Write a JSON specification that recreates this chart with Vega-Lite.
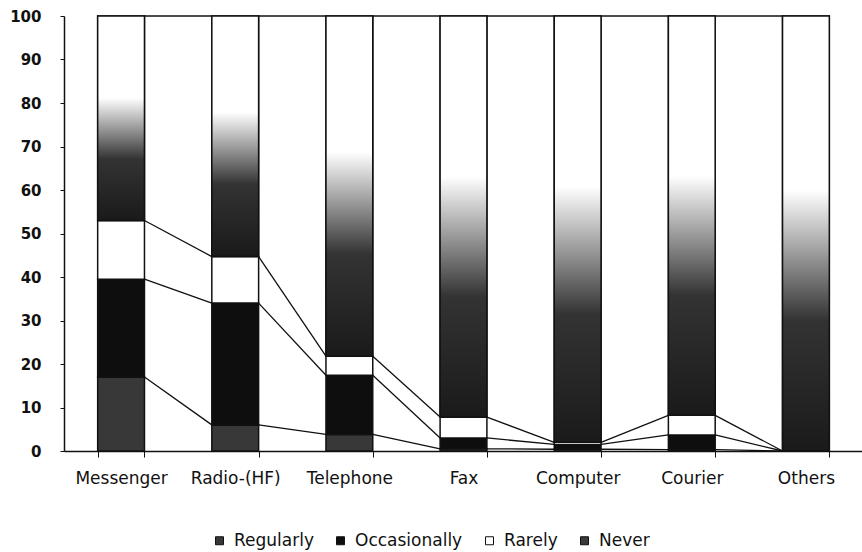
{
  "$schema": "https://vega.github.io/schema/vega-lite/v6.json",
  "width": 799,
  "height": 435,
  "autosize": {"type": "pad"},
  "padding": {"left": 9, "top": 9, "right": 0, "bottom": 4},
  "config": {
    "view": {"stroke": null},
    "font": "DejaVu Sans",
    "axis": {"labelColor": "#111", "labelFontSize": 17, "domainColor": "#111", "tickColor": "#111", "domainWidth": 1.5, "title": null, "grid": false},
    "legend": {"labelFontSize": 17, "labelColor": "#111", "symbolType": "square", "symbolSize": 64, "symbolStrokeColor": "#111", "symbolStrokeWidth": 1, "columnPadding": 18, "labelOffset": 6, "orient": "none", "legendX": 147, "legendY": 516, "direction": "horizontal", "title": null}
  },
  "data": {
    "values": [
      {"cat": "Messenger", "ci": 0, "series": "Regularly", "so": 0, "value": 17},
      {"cat": "Messenger", "ci": 0, "series": "Occasionally", "so": 1, "value": 22.5},
      {"cat": "Messenger", "ci": 0, "series": "Rarely", "so": 2, "value": 13.5},
      {"cat": "Messenger", "ci": 0, "series": "Never", "so": 3, "value": 47},
      {"cat": "Radio-(HF)", "ci": 1, "series": "Regularly", "so": 0, "value": 6},
      {"cat": "Radio-(HF)", "ci": 1, "series": "Occasionally", "so": 1, "value": 28},
      {"cat": "Radio-(HF)", "ci": 1, "series": "Rarely", "so": 2, "value": 10.7},
      {"cat": "Radio-(HF)", "ci": 1, "series": "Never", "so": 3, "value": 55.3},
      {"cat": "Telephone", "ci": 2, "series": "Regularly", "so": 0, "value": 3.8},
      {"cat": "Telephone", "ci": 2, "series": "Occasionally", "so": 1, "value": 13.6},
      {"cat": "Telephone", "ci": 2, "series": "Rarely", "so": 2, "value": 4.4},
      {"cat": "Telephone", "ci": 2, "series": "Never", "so": 3, "value": 78.2},
      {"cat": "Fax", "ci": 3, "series": "Regularly", "so": 0, "value": 0.5},
      {"cat": "Fax", "ci": 3, "series": "Occasionally", "so": 1, "value": 2.5},
      {"cat": "Fax", "ci": 3, "series": "Rarely", "so": 2, "value": 4.8},
      {"cat": "Fax", "ci": 3, "series": "Never", "so": 3, "value": 92.2},
      {"cat": "Computer", "ci": 4, "series": "Regularly", "so": 0, "value": 0.4},
      {"cat": "Computer", "ci": 4, "series": "Occasionally", "so": 1, "value": 1.1},
      {"cat": "Computer", "ci": 4, "series": "Rarely", "so": 2, "value": 0.5},
      {"cat": "Computer", "ci": 4, "series": "Never", "so": 3, "value": 98},
      {"cat": "Courier", "ci": 5, "series": "Regularly", "so": 0, "value": 0.3},
      {"cat": "Courier", "ci": 5, "series": "Occasionally", "so": 1, "value": 3.4},
      {"cat": "Courier", "ci": 5, "series": "Rarely", "so": 2, "value": 4.5},
      {"cat": "Courier", "ci": 5, "series": "Never", "so": 3, "value": 91.8},
      {"cat": "Others", "ci": 6, "series": "Regularly", "so": 0, "value": 0},
      {"cat": "Others", "ci": 6, "series": "Occasionally", "so": 1, "value": 0},
      {"cat": "Others", "ci": 6, "series": "Rarely", "so": 2, "value": 0},
      {"cat": "Others", "ci": 6, "series": "Never", "so": 3, "value": 100}
    ]
  },
  "transform": [
    {"stack": "value", "groupby": ["cat"], "sort": [{"field": "so", "order": "ascending"}], "as": ["y0", "y1"]}
  ],
  "layer": [
    {
      "mark": {"type": "bar", "stroke": "#111", "strokeWidth": 1.5},
      "encoding": {
        "x": {
          "field": "cat", "type": "nominal",
          "sort": ["Messenger", "Radio-(HF)", "Telephone", "Fax", "Computer", "Courier", "Others"],
          "scale": {"paddingInner": 0.59, "paddingOuter": 0.295},
          "axis": {"labelAngle": 0, "tickBand": "extent", "tickSize": 6, "labelPadding": 13}
        },
        "y": {
          "field": "y0", "type": "quantitative",
          "scale": {"domain": [0, 100], "nice": false},
          "axis": {"values": [0, 10, 20, 30, 40, 50, 60, 70, 80, 90, 100], "tickSize": 4, "labelPadding": 19, "labelFontSize": 15, "labelFontWeight": "bold"}
        },
        "y2": {"field": "y1"},
        "color": {
          "field": "series", "type": "nominal",
          "scale": {"domain": ["Regularly", "Occasionally", "Rarely", "Never"], "range": ["#383838", "#0e0e0e", "#ffffff", "#3a3a3a"]}
        }
      }
    },
    {
      "transform": [{"filter": "datum.series === 'Never'"}],
      "mark": {
        "type": "bar", "stroke": "#111", "strokeWidth": 1.5,
        "fill": {"gradient": "linear", "x1": 0, "y1": 1, "x2": 0, "y2": 0,
          "stops": [{"offset": 0, "color": "#1a1a1a"}, {"offset": 0.3, "color": "#333333"}, {"offset": 0.6, "color": "#ffffff"}, {"offset": 1, "color": "#ffffff"}]}
      },
      "encoding": {
        "x": {"field": "cat", "type": "nominal", "sort": ["Messenger", "Radio-(HF)", "Telephone", "Fax", "Computer", "Courier", "Others"]},
        "y": {"field": "y0", "type": "quantitative"},
        "y2": {"field": "y1"}
      }
    },
    {
      "transform": [
        {"window": [{"op": "lead", "field": "cat", "as": "nextCat"}, {"op": "lead", "field": "y1", "as": "nextY"}], "groupby": ["series"], "sort": [{"field": "ci", "order": "ascending"}]},
        {"filter": "datum.nextCat != null"}
      ],
      "mark": {"type": "rule", "color": "#111", "strokeWidth": 1.3},
      "encoding": {
        "x": {"field": "cat", "type": "nominal", "bandPosition": 1, "sort": ["Messenger", "Radio-(HF)", "Telephone", "Fax", "Computer", "Courier", "Others"]},
        "x2": {"field": "nextCat", "bandPosition": 0},
        "y": {"field": "y1", "type": "quantitative"},
        "y2": {"field": "nextY"}
      }
    }
  ]
}
